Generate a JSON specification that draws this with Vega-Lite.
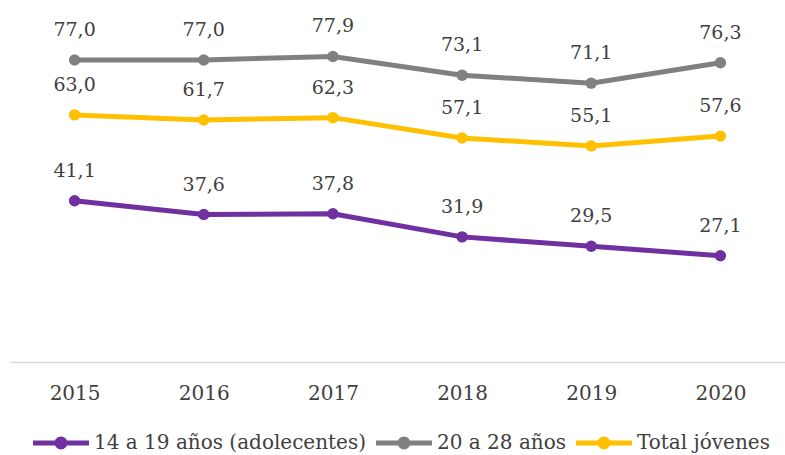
{
  "$schema": "https://vega.github.io/schema/vega-lite/v6.json",
  "width": 775,
  "height": 353,
  "padding": {"left": 10, "top": 9, "right": 0, "bottom": 0},
  "background": "white",
  "data": {
    "values": [
      {"year": "2015", "serie": "14 a 19 años (adolecentes)", "value": 41.1, "label": "41,1"},
      {"year": "2016", "serie": "14 a 19 años (adolecentes)", "value": 37.6, "label": "37,6"},
      {"year": "2017", "serie": "14 a 19 años (adolecentes)", "value": 37.8, "label": "37,8"},
      {"year": "2018", "serie": "14 a 19 años (adolecentes)", "value": 31.9, "label": "31,9"},
      {"year": "2019", "serie": "14 a 19 años (adolecentes)", "value": 29.5, "label": "29,5"},
      {"year": "2020", "serie": "14 a 19 años (adolecentes)", "value": 27.1, "label": "27,1"},
      {"year": "2015", "serie": "20 a 28 años", "value": 77.0, "label": "77,0"},
      {"year": "2016", "serie": "20 a 28 años", "value": 77.0, "label": "77,0"},
      {"year": "2017", "serie": "20 a 28 años", "value": 77.9, "label": "77,9"},
      {"year": "2018", "serie": "20 a 28 años", "value": 73.1, "label": "73,1"},
      {"year": "2019", "serie": "20 a 28 años", "value": 71.1, "label": "71,1"},
      {"year": "2020", "serie": "20 a 28 años", "value": 76.3, "label": "76,3"},
      {"year": "2015", "serie": "Total jóvenes", "value": 63.0, "label": "63,0"},
      {"year": "2016", "serie": "Total jóvenes", "value": 61.7, "label": "61,7"},
      {"year": "2017", "serie": "Total jóvenes", "value": 62.3, "label": "62,3"},
      {"year": "2018", "serie": "Total jóvenes", "value": 57.1, "label": "57,1"},
      {"year": "2019", "serie": "Total jóvenes", "value": 55.1, "label": "55,1"},
      {"year": "2020", "serie": "Total jóvenes", "value": 57.6, "label": "57,6"}
    ]
  },
  "encoding": {
    "x": {
      "field": "year",
      "type": "ordinal",
      "scale": {"type": "point", "padding": 0.5},
      "axis": {
        "title": null,
        "labelAngle": 0,
        "labelFont": "DejaVu Serif",
        "labelFontSize": 20,
        "labelColor": "#404040",
        "ticks": false,
        "tickSize": 0,
        "labelPadding": 21,
        "domainColor": "#d9d9d9",
        "domainWidth": 1.5,
        "grid": false
      }
    },
    "y": {
      "field": "value",
      "type": "quantitative",
      "scale": {"domain": [0, 90]},
      "axis": null
    },
    "color": {
      "field": "serie",
      "type": "nominal",
      "scale": {
        "domain": ["14 a 19 años (adolecentes)", "20 a 28 años", "Total jóvenes"],
        "range": ["#7030A0", "#808080", "#FFC000"]
      },
      "legend": {
        "title": null,
        "orient": "none",
        "direction": "horizontal",
        "legendX": 23,
        "legendY": 406,
        "symbolType": "M-1,-0.085L1,-0.085L1,0.085L-1,0.085Z M-0.23,0A0.23,0.23 0 1,1 0.23,0A0.23,0.23 0 1,1 -0.23,0Z",
        "symbolSize": 3136,
        "symbolStrokeWidth": 0,
        "symbolOpacity": 1,
        "labelFont": "DejaVu Serif",
        "labelFontSize": 20,
        "labelColor": "#404040",
        "labelOffset": 5,
        "columnPadding": 9,
        "labelLimit": 400,
        "encode": {
          "symbols": {
            "update": {
              "fill": {"scale": "color", "field": "value"},
              "stroke": {"value": "transparent"}
            }
          }
        }
      }
    }
  },
  "layer": [
    {"mark": {"type": "line", "strokeWidth": 5}},
    {"mark": {"type": "point", "filled": true, "size": 130, "opacity": 1}},
    {
      "mark": {
        "type": "text",
        "dy": -30,
        "baseline": "middle",
        "fontSize": 19,
        "font": "DejaVu Serif"
      },
      "encoding": {
        "text": {"field": "label"},
        "color": {"value": "#404040"}
      }
    }
  ],
  "config": {"view": {"stroke": null}}
}
